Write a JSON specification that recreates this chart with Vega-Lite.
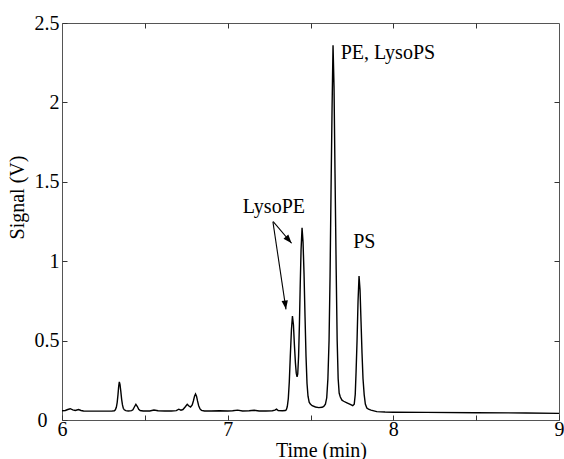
{
  "$schema": "https://vega.github.io/schema/vega-lite/v6.json",
  "width": 497,
  "height": 397,
  "autosize": {"type": "none"},
  "padding": {"left": 62, "top": 23, "right": 5, "bottom": 39},
  "background": "white",
  "config": {
    "view": {"stroke": "#555555", "strokeWidth": 1},
    "font": "Liberation Serif",
    "text": {"font": "Liberation Serif"},
    "axis": {"grid": false, "domain": false, "labelFont": "Liberation Serif", "labelFontSize": 20, "labelColor": "black", "titleFont": "Liberation Serif", "titleFontSize": 20, "titleFontWeight": "normal", "titleColor": "black", "tickColor": "#333333", "labelFlush": false}
  },
  "datasets": {
    "trace": [
      {"t": 6.00, "v": 0.058}, {"t": 6.02, "v": 0.060}, {"t": 6.035, "v": 0.066}, {"t": 6.05, "v": 0.071}, {"t": 6.065, "v": 0.064}, {"t": 6.08, "v": 0.060}, {"t": 6.10, "v": 0.066}, {"t": 6.115, "v": 0.060}, {"t": 6.13, "v": 0.057}, {"t": 6.18, "v": 0.056}, {"t": 6.24, "v": 0.056}, {"t": 6.30, "v": 0.056},
      {"t": 6.316, "v": 0.058}, {"t": 6.322, "v": 0.064}, {"t": 6.328, "v": 0.080}, {"t": 6.333, "v": 0.110}, {"t": 6.338, "v": 0.160}, {"t": 6.342, "v": 0.210}, {"t": 6.346, "v": 0.240}, {"t": 6.350, "v": 0.225}, {"t": 6.355, "v": 0.180}, {"t": 6.360, "v": 0.130}, {"t": 6.365, "v": 0.095}, {"t": 6.370, "v": 0.074}, {"t": 6.376, "v": 0.064}, {"t": 6.385, "v": 0.059}, {"t": 6.40, "v": 0.057},
      {"t": 6.42, "v": 0.059}, {"t": 6.428, "v": 0.064}, {"t": 6.436, "v": 0.080}, {"t": 6.446, "v": 0.099}, {"t": 6.455, "v": 0.085}, {"t": 6.463, "v": 0.068}, {"t": 6.472, "v": 0.060}, {"t": 6.49, "v": 0.057}, {"t": 6.53, "v": 0.057}, {"t": 6.555, "v": 0.063}, {"t": 6.58, "v": 0.058}, {"t": 6.62, "v": 0.057}, {"t": 6.66, "v": 0.057},
      {"t": 6.69, "v": 0.059}, {"t": 6.705, "v": 0.068}, {"t": 6.718, "v": 0.062}, {"t": 6.73, "v": 0.066}, {"t": 6.742, "v": 0.080}, {"t": 6.756, "v": 0.099}, {"t": 6.766, "v": 0.088}, {"t": 6.776, "v": 0.082}, {"t": 6.786, "v": 0.095}, {"t": 6.793, "v": 0.120}, {"t": 6.800, "v": 0.150}, {"t": 6.806, "v": 0.164}, {"t": 6.812, "v": 0.150}, {"t": 6.818, "v": 0.120}, {"t": 6.825, "v": 0.090}, {"t": 6.833, "v": 0.070}, {"t": 6.842, "v": 0.061}, {"t": 6.86, "v": 0.057},
      {"t": 6.90, "v": 0.057}, {"t": 6.95, "v": 0.058}, {"t": 7.00, "v": 0.057}, {"t": 7.03, "v": 0.058}, {"t": 7.06, "v": 0.062}, {"t": 7.09, "v": 0.057}, {"t": 7.13, "v": 0.058}, {"t": 7.16, "v": 0.061}, {"t": 7.19, "v": 0.057}, {"t": 7.23, "v": 0.057}, {"t": 7.27, "v": 0.058}, {"t": 7.285, "v": 0.062}, {"t": 7.295, "v": 0.068}, {"t": 7.305, "v": 0.060}, {"t": 7.33, "v": 0.058}, {"t": 7.348, "v": 0.060},
      {"t": 7.354, "v": 0.064}, {"t": 7.360, "v": 0.085}, {"t": 7.366, "v": 0.135}, {"t": 7.372, "v": 0.240}, {"t": 7.378, "v": 0.400}, {"t": 7.385, "v": 0.570}, {"t": 7.391, "v": 0.655}, {"t": 7.397, "v": 0.600}, {"t": 7.403, "v": 0.470}, {"t": 7.409, "v": 0.360}, {"t": 7.414, "v": 0.295}, {"t": 7.419, "v": 0.272},
      {"t": 7.423, "v": 0.290}, {"t": 7.428, "v": 0.400}, {"t": 7.433, "v": 0.600}, {"t": 7.438, "v": 0.850}, {"t": 7.443, "v": 1.070}, {"t": 7.449, "v": 1.210}, {"t": 7.455, "v": 1.120}, {"t": 7.461, "v": 0.920}, {"t": 7.467, "v": 0.650}, {"t": 7.473, "v": 0.400}, {"t": 7.479, "v": 0.230}, {"t": 7.485, "v": 0.150}, {"t": 7.492, "v": 0.112},
      {"t": 7.499, "v": 0.100}, {"t": 7.51, "v": 0.090}, {"t": 7.53, "v": 0.082}, {"t": 7.55, "v": 0.078}, {"t": 7.57, "v": 0.080}, {"t": 7.58, "v": 0.086}, {"t": 7.59, "v": 0.100},
      {"t": 7.598, "v": 0.140}, {"t": 7.605, "v": 0.260}, {"t": 7.612, "v": 0.500}, {"t": 7.618, "v": 0.900}, {"t": 7.624, "v": 1.450}, {"t": 7.630, "v": 1.950}, {"t": 7.636, "v": 2.360}, {"t": 7.642, "v": 2.100}, {"t": 7.648, "v": 1.550}, {"t": 7.655, "v": 0.950}, {"t": 7.661, "v": 0.500}, {"t": 7.667, "v": 0.260}, {"t": 7.673, "v": 0.170},
      {"t": 7.680, "v": 0.145}, {"t": 7.690, "v": 0.125}, {"t": 7.70, "v": 0.118}, {"t": 7.72, "v": 0.108}, {"t": 7.74, "v": 0.098}, {"t": 7.755, "v": 0.090},
      {"t": 7.764, "v": 0.100}, {"t": 7.770, "v": 0.160}, {"t": 7.775, "v": 0.300}, {"t": 7.781, "v": 0.500}, {"t": 7.787, "v": 0.750}, {"t": 7.793, "v": 0.907}, {"t": 7.799, "v": 0.820}, {"t": 7.805, "v": 0.620}, {"t": 7.811, "v": 0.420}, {"t": 7.817, "v": 0.260}, {"t": 7.824, "v": 0.160}, {"t": 7.831, "v": 0.100}, {"t": 7.840, "v": 0.075}, {"t": 7.85, "v": 0.068}, {"t": 7.865, "v": 0.062},
      {"t": 7.90, "v": 0.053}, {"t": 7.95, "v": 0.050}, {"t": 8.00, "v": 0.049}, {"t": 8.20, "v": 0.048}, {"t": 8.50, "v": 0.046}, {"t": 8.80, "v": 0.044}, {"t": 9.00, "v": 0.042}
    ],
    "labels": [
      {"t": 7.091, "v": 1.304, "text": "LysoPE"},
      {"t": 7.682, "v": 2.273, "text": "PE, LysoPS"},
      {"t": 7.758, "v": 1.081, "text": "PS"}
    ],
    "arrows": [
      {"id": "a1", "t": 7.275, "v": 1.249, "t2": 7.386, "v2": 1.113},
      {"id": "a2", "t": 7.273, "v": 1.249, "t2": 7.352, "v2": 0.697}
    ]
  },
  "layer": [
    {
      "data": {"name": "trace"},
      "mark": {"type": "line", "color": "black", "strokeWidth": 1.4},
      "encoding": {
        "x": {"field": "t", "type": "quantitative", "scale": {"domain": [6, 9], "nice": false, "zero": false},
          "axis": {"orient": "bottom", "values": [6, 6.5, 7, 7.5, 8, 8.5, 9], "format": "~g", "labelExpr": "datum.value % 1 === 0 ? datum.label : ''", "tickSize": -5, "labelPadding": 4, "title": "Time (min)", "titleX": 259, "titleY": 36, "titleBaseline": "alphabetic", "titleAlign": "center", "titleAnchor": null}},
        "y": {"field": "v", "type": "quantitative", "scale": {"domain": [0, 2.5], "nice": false, "zero": false},
          "axis": {"orient": "left", "values": [0, 0.5, 1, 1.5, 2, 2.5], "format": "~g", "tickSize": -5, "labelPadding": {"condition": {"test": "datum.value === 0", "value": 20}, "value": 8}, "title": "Signal (V)", "titleX": -39, "titleY": 174, "titleAngle": 270, "titleAlign": "center", "titleBaseline": "alphabetic", "titleAnchor": null}}
      }
    },
    {
      "data": {"name": "trace"},
      "mark": {"type": "line", "opacity": 0},
      "encoding": {
        "x": {"field": "t", "type": "quantitative", "axis": {"orient": "top", "values": [6.5, 7, 7.5, 8, 8.5], "labels": false, "tickSize": -5, "title": null}},
        "y": {"field": "v", "type": "quantitative", "axis": {"orient": "right", "values": [0.5, 1, 1.5, 2], "labels": false, "tickSize": -5, "title": null}}
      }
    },
    {
      "data": {"name": "labels"},
      "mark": {"type": "text", "align": "left", "baseline": "alphabetic", "font": "Liberation Serif", "fontSize": 20, "color": "black"},
      "encoding": {
        "x": {"field": "t", "type": "quantitative", "axis": null},
        "y": {"field": "v", "type": "quantitative", "axis": null},
        "text": {"field": "text"}
      }
    },
    {
      "data": {"name": "arrows"},
      "mark": {"type": "rule", "color": "black", "strokeWidth": 1.1},
      "encoding": {
        "x": {"field": "t", "type": "quantitative", "axis": null},
        "y": {"field": "v", "type": "quantitative", "axis": null},
        "x2": {"field": "t2"},
        "y2": {"field": "v2"}
      }
    },
    {
      "data": {"name": "arrows"},
      "transform": [{"filter": "datum.id === 'a1'"}],
      "mark": {"type": "point", "filled": true, "color": "black", "opacity": 1, "size": 64, "shape": "M0,0L0.8,2.2L-0.8,2.2Z", "angle": 139.6},
      "encoding": {
        "x": {"field": "t2", "type": "quantitative", "axis": null},
        "y": {"field": "v2", "type": "quantitative", "axis": null}
      }
    },
    {
      "data": {"name": "arrows"},
      "transform": [{"filter": "datum.id === 'a2'"}],
      "mark": {"type": "point", "filled": true, "color": "black", "opacity": 1, "size": 64, "shape": "M0,0L0.8,2.2L-0.8,2.2Z", "angle": 171.7},
      "encoding": {
        "x": {"field": "t2", "type": "quantitative", "axis": null},
        "y": {"field": "v2", "type": "quantitative", "axis": null}
      }
    }
  ],
  "resolve": {"axis": {"x": "independent", "y": "independent"}}
}
